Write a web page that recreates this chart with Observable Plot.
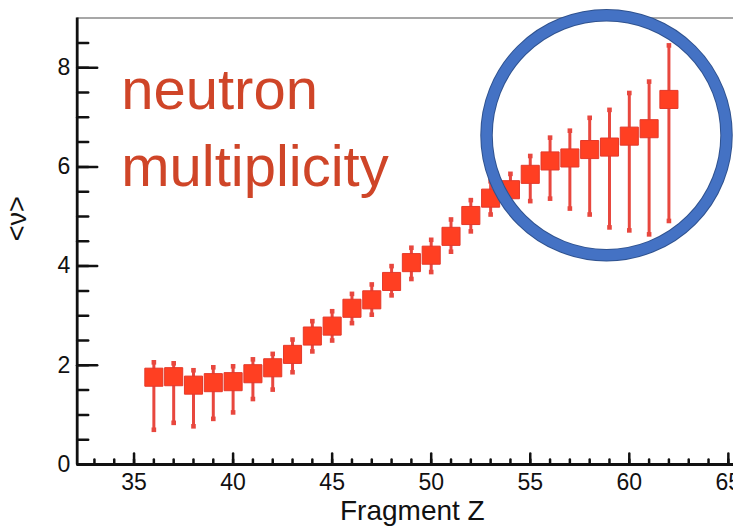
<!DOCTYPE html>
<html>
<head>
<meta charset="utf-8">
<script src="https://cdn.jsdelivr.net/npm/d3@7"></script>
<script src="https://cdn.jsdelivr.net/npm/@observablehq/plot@0.6"></script>
<style>
  html, body { margin: 0; padding: 0; background: #fff; overflow: hidden; }
  #chart { width: 733px; height: 528px; }
</style>
</head>
<body>
<div id="chart"></div>
<script>
// ---- data ----
const fragmentZ = [36, 37, 38, 39, 40, 41, 42, 43, 44, 45, 46, 47, 48, 49, 50, 51, 52, 53, 54, 55, 56, 57, 58, 59, 60, 61, 62];
const meanNu    = [1.76, 1.77, 1.60, 1.65, 1.67, 1.83, 1.95, 2.22, 2.59, 2.79, 3.15, 3.32, 3.69, 4.07, 4.22, 4.60, 5.02, 5.37, 5.54, 5.85, 6.12, 6.18, 6.35, 6.40, 6.62, 6.77, 7.36];
const errHigh   = [2.06, 2.04, 1.90, 1.96, 1.98, 2.12, 2.23, 2.52, 2.89, 3.09, 3.44, 3.63, 4.00, 4.37, 4.53, 4.94, 5.33, 5.71, 5.86, 6.22, 6.59, 6.73, 6.99, 7.15, 7.49, 7.72, 8.45];
const errLow    = [0.70, 0.84, 0.77, 0.92, 1.05, 1.32, 1.51, 1.86, 2.28, 2.50, 2.85, 3.02, 3.41, 3.74, 3.88, 4.29, 4.70, 5.04, 5.22, 5.31, 5.36, 5.16, 5.04, 4.78, 4.72, 4.64, 4.91];

const xMajorTicks = [35, 40, 45, 50, 55, 60, 65];
const xMinorTicks = d3.range(33, 66, 1);
const yMajorTicks = [0, 2, 4, 6, 8];
const yMinorTicks = d3.range(0.5, 9, 0.5);

const xDomain = [32.13, 65.26];
const yDomain = [0, 9];

const titleText = "neutron\nmultiplicity";
const xLabel = "Fragment Z";
const yLabel = "<ν>";

// highlight circle (annotation) centre, in data units
const highlight = [{z: 58.85, nu: 6.64}];

const rows = fragmentZ.map((z, i) => ({z, nu: meanNu[i], hi: errHigh[i], lo: errLow[i]}));

const font = "'Liberation Sans', Arial, Helvetica, sans-serif";
const axisCol = "#111";
const markerFill = "#ff3f22";
const barCol = "#e8473e";
const titleCol = "#cf4528";

// straight tick shape for vector marks (points "up" before rotation)
const tickShape = {draw(context, l) { context.moveTo(0, 0); context.lineTo(0, -l); }};

const chart = Plot.plot({
  width: 733,
  height: 528,
  marginLeft: 76.7,
  marginRight: 0,
  marginTop: 17.6,
  marginBottom: 64,
  style: {fontFamily: font, background: "#fff", color: axisCol},
  x: {domain: xDomain, label: null, axis: null},
  y: {domain: yDomain, label: null, axis: null},
  marks: [
    // top frame line
    Plot.ruleY([yDomain[1]], {stroke: "#8a8a8a", strokeWidth: 1.5}),
    // inward ticks: y (pointing right)
    Plot.vector(yMajorTicks, {x: () => xDomain[0], y: d => d, length: 20, rotate: 90, anchor: "start", shape: tickShape, stroke: axisCol, strokeWidth: 2.5}),
    Plot.vector(yMinorTicks, {x: () => xDomain[0], y: d => d, length: 11, rotate: 90, anchor: "start", shape: tickShape, stroke: axisCol, strokeWidth: 2.5}),
    Plot.axisY({ticks: yMajorTicks, tickSize: 0, tickPadding: 7, label: null, fontSize: 23, fill: axisCol}),
    // inward ticks: x (pointing up)
    Plot.vector(xMajorTicks, {x: d => d, y: () => 0, length: 11, rotate: 0, anchor: "start", shape: tickShape, stroke: axisCol, strokeWidth: 2.5}),
    Plot.vector(xMinorTicks, {x: d => d, y: () => 0, length: 5, rotate: 0, anchor: "start", shape: tickShape, stroke: axisCol, strokeWidth: 2.5}),
    Plot.axisX({ticks: xMajorTicks, tickSize: 0, tickPadding: 9, label: null, fontSize: 23, fill: axisCol}),
    // axis lines
    Plot.ruleY([0], {stroke: axisCol, strokeWidth: 2.8}),
    Plot.ruleX([xDomain[0]], {stroke: axisCol, strokeWidth: 2.8}),
    // error bars
    Plot.ruleX(rows, {x: "z", y1: "lo", y2: "hi", stroke: barCol, strokeWidth: 3}),
    Plot.dot(rows, {x: "z", y: "hi", symbol: "square", r: 2.6, fill: barCol, stroke: "none"}),
    Plot.dot(rows, {x: "z", y: "lo", symbol: "square", r: 2.6, fill: barCol, stroke: "none"}),
    // markers
    Plot.dot(rows, {x: "z", y: "nu", symbol: "square", r: 10.2, fill: markerFill, stroke: "#e4392a", strokeWidth: 1}),
    // title text
    Plot.text([titleText], {frameAnchor: "top-left", textAnchor: "start", lineAnchor: "top", dx: 44, dy: 36, fontSize: 58, lineHeight: 1.33, fill: titleCol, fontFamily: font}),
    // axis titles
    Plot.text([xLabel], {frameAnchor: "bottom", lineAnchor: "top", dx: 7, dy: 36, fontSize: 28, fill: axisCol, fontFamily: font}),
    Plot.text([yLabel], {frameAnchor: "left", rotate: -90, dx: -60, fontSize: 27, fill: axisCol, fontFamily: font}),
    // highlight circle
    Plot.dot(highlight, {x: "z", y: "nu", r: 120, fill: "none", stroke: "#2f528f", strokeWidth: 12.5}),
    Plot.dot(highlight, {x: "z", y: "nu", r: 120, fill: "none", stroke: "#4472c4", strokeWidth: 10.5})
  ]
});
document.getElementById("chart").appendChild(chart);
</script>
</body>
</html>
